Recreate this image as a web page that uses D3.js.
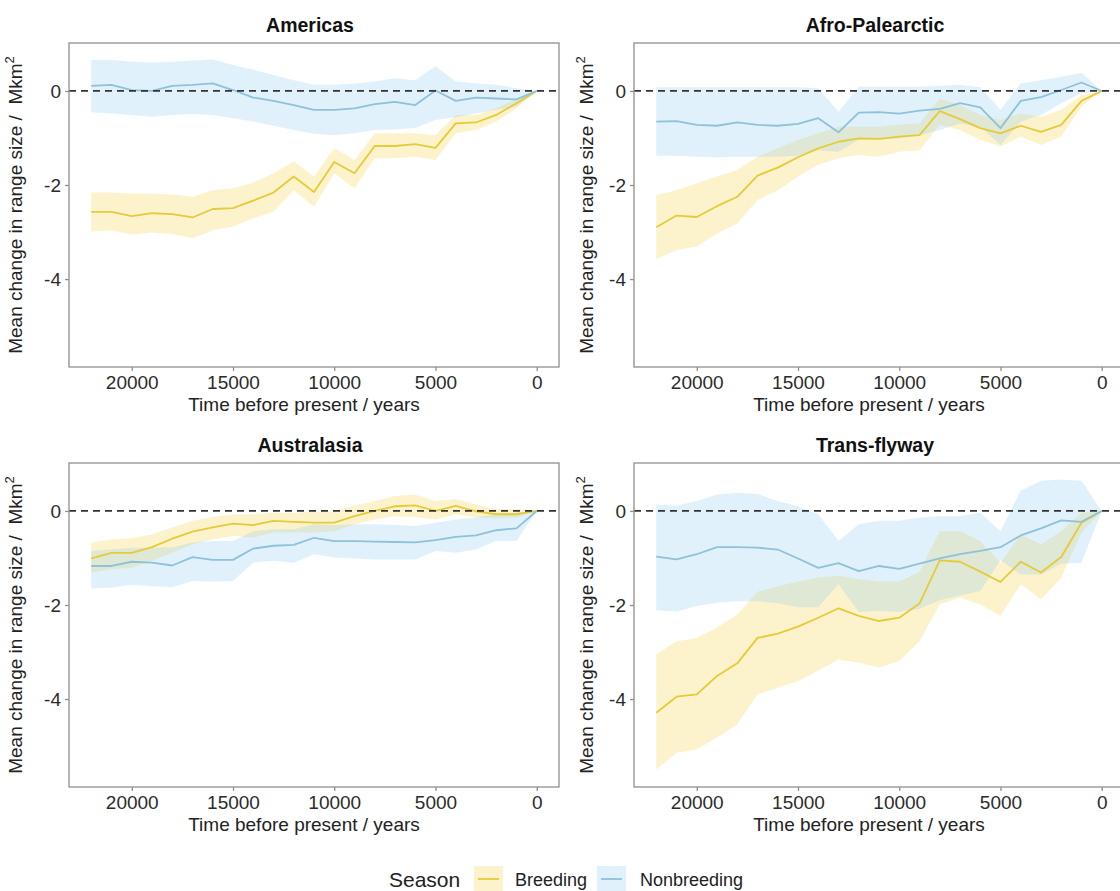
<!DOCTYPE html>
<html>
<head>
<meta charset="utf-8">
<script src="https://cdn.jsdelivr.net/npm/d3@7"></script>
<style>
  html, body { margin: 0; padding: 0; background: #fff; overflow: hidden; }
  svg { display: block; font-family: "Liberation Sans", Arial, Helvetica, sans-serif; }
</style>
</head>
<body>
<svg id="chart" width="1120" height="891"></svg>
<script>
// Years before present (one model time slice every 1000 years)
const years = [22000, 21000, 20000, 19000, 18000, 17000, 16000, 15000, 14000, 13000, 12000, 11000,
               10000, 9000, 8000, 7000, 6000, 5000, 4000, 3000, 2000, 1000, 0];

const regions = ["Americas", "Afro-Palearctic", "Australasia", "Trans-flyway"];
const seasons = ["Breeding", "Nonbreeding"];
const xTicks = [20000, 15000, 10000, 5000, 0];
const yTicks = [0, -2, -4];

// Americas
const americasBreedMean = [-2.57, -2.57, -2.66, -2.60, -2.62, -2.69, -2.51, -2.49, -2.33, -2.16, -1.82, -2.15,
                           -1.51, -1.75, -1.17, -1.17, -1.13, -1.21, -0.69, -0.67, -0.51, -0.26, 0];
const americasBreedLow  = [-2.99, -2.96, -3.06, -3.01, -3.04, -3.13, -2.96, -2.89, -2.71, -2.57, -2.11, -2.46,
                           -1.75, -2.07, -1.43, -1.43, -1.40, -1.47, -0.90, -0.83, -0.65, -0.37, 0];
const americasBreedHigh = [-2.16, -2.16, -2.18, -2.18, -2.20, -2.25, -2.11, -2.07, -1.95, -1.75, -1.50, -1.82,
                           -1.22, -1.47, -0.90, -0.90, -0.90, -0.94, -0.51, -0.51, -0.37, -0.16, 0];
const americasNonMean   = [0.11, 0.13, 0.02, 0.00, 0.11, 0.13, 0.16, 0.02, -0.14, -0.21, -0.30, -0.40,
                           -0.40, -0.37, -0.28, -0.23, -0.30, 0.01, -0.21, -0.14, -0.16, -0.18, 0];
const americasNonLow    = [-0.45, -0.48, -0.51, -0.55, -0.51, -0.49, -0.51, -0.58, -0.65, -0.74, -0.83, -0.91,
                           -0.94, -0.90, -0.83, -0.82, -0.79, -0.62, -0.56, -0.48, -0.40, -0.33, 0];
const americasNonHigh   = [0.66, 0.66, 0.62, 0.60, 0.62, 0.65, 0.67, 0.55, 0.45, 0.34, 0.23, 0.13,
                           0.13, 0.16, 0.20, 0.27, 0.23, 0.53, 0.20, 0.16, 0.13, 0.06, 0];

// Afro-Palearctic
const afroBreedMean = [-2.90, -2.65, -2.68, -2.45, -2.25, -1.80, -1.63, -1.41, -1.22, -1.08, -1.01, -1.02,
                       -0.97, -0.94, -0.43, -0.60, -0.79, -0.90, -0.74, -0.87, -0.72, -0.21, 0];
const afroBreedLow  = [-3.58, -3.38, -3.31, -3.03, -2.82, -2.32, -2.11, -1.82, -1.57, -1.43, -1.36, -1.40,
                       -1.29, -1.26, -0.72, -0.83, -1.04, -1.18, -0.97, -1.15, -0.97, -0.33, 0];
const afroBreedHigh = [-2.21, -2.11, -1.96, -1.82, -1.68, -1.40, -1.22, -1.04, -0.90, -0.76, -0.76, -0.76,
                       -0.72, -0.69, -0.16, -0.30, -0.51, -0.62, -0.48, -0.55, -0.40, -0.09, 0];
const afroNonMean   = [-0.65, -0.64, -0.72, -0.74, -0.67, -0.72, -0.74, -0.70, -0.58, -0.88, -0.46, -0.45,
                       -0.48, -0.42, -0.38, -0.26, -0.35, -0.79, -0.21, -0.13, 0.02, 0.18, 0];
const afroNonLow    = [-1.38, -1.38, -1.40, -1.41, -1.40, -1.40, -1.40, -1.38, -1.26, -1.29, -1.04, -1.03,
                       -1.01, -0.94, -0.83, -0.69, -0.76, -1.15, -0.65, -0.51, -0.26, -0.05, 0];
const afroNonHigh   = [0.08, 0.08, 0.08, 0.08, 0.08, 0.08, 0.08, 0.08, 0.06, -0.44, 0.09, 0.09,
                       0.09, 0.09, 0.11, 0.13, 0.08, -0.40, 0.16, 0.23, 0.30, 0.39, 0];

// Australasia
const australBreedMean = [-1.01, -0.89, -0.89, -0.77, -0.59, -0.44, -0.35, -0.27, -0.30, -0.21, -0.23, -0.25,
                          -0.25, -0.11, 0.00, 0.10, 0.12, 0.00, 0.11, -0.01, -0.07, -0.07, 0];
const australBreedLow  = [-1.31, -1.24, -1.21, -1.06, -0.89, -0.71, -0.60, -0.53, -0.57, -0.46, -0.46, -0.46,
                          -0.43, -0.28, -0.18, -0.11, -0.13, -0.18, -0.07, -0.14, -0.16, -0.14, 0];
const australBreedHigh = [-0.67, -0.60, -0.58, -0.50, -0.35, -0.21, -0.13, -0.07, -0.07, -0.04, -0.04, -0.01,
                          0.00, 0.11, 0.21, 0.32, 0.35, 0.21, 0.25, 0.14, 0.04, 0.04, 0];
const australNonMean   = [-1.17, -1.17, -1.08, -1.10, -1.16, -0.98, -1.04, -1.04, -0.80, -0.74, -0.72, -0.57,
                          -0.64, -0.64, -0.65, -0.66, -0.67, -0.62, -0.55, -0.52, -0.41, -0.37, 0];
const australNonLow    = [-1.65, -1.63, -1.57, -1.60, -1.62, -1.49, -1.50, -1.49, -1.10, -1.06, -1.10, -0.92,
                          -0.99, -1.01, -1.03, -1.03, -1.03, -0.85, -0.89, -0.82, -0.64, -0.64, 0];
const australNonHigh   = [-0.85, -0.82, -0.78, -0.78, -0.77, -0.67, -0.64, -0.64, -0.43, -0.39, -0.39, -0.28,
                          -0.30, -0.28, -0.28, -0.30, -0.32, -0.25, -0.18, -0.14, -0.07, -0.04, 0];

// Trans-flyway
const transBreedMean = [-4.29, -3.95, -3.90, -3.51, -3.24, -2.70, -2.61, -2.46, -2.27, -2.07, -2.23, -2.34,
                        -2.27, -1.97, -1.05, -1.08, -1.29, -1.51, -1.08, -1.31, -0.98, -0.25, 0];
const transBreedLow  = [-5.50, -5.14, -5.07, -4.82, -4.54, -3.90, -3.76, -3.62, -3.40, -3.16, -3.23, -3.33,
                        -3.19, -2.77, -1.99, -1.84, -1.99, -2.23, -1.56, -1.88, -1.42, -0.46, 0];
const transBreedHigh = [-3.05, -2.77, -2.70, -2.48, -2.20, -1.72, -1.60, -1.50, -1.42, -1.38, -1.45, -1.50,
                        -1.50, -1.30, -0.43, -0.43, -0.64, -1.10, -0.50, -0.71, -0.43, -0.04, 0];
const transNonMean   = [-0.97, -1.03, -0.92, -0.77, -0.77, -0.78, -0.82, -1.01, -1.21, -1.11, -1.28, -1.17,
                        -1.23, -1.12, -1.01, -0.92, -0.85, -0.77, -0.52, -0.37, -0.20, -0.23, 0];
const transNonLow    = [-2.11, -2.14, -2.02, -1.95, -1.92, -1.92, -1.96, -2.05, -2.05, -1.56, -2.15, -2.12,
                        -2.15, -2.08, -1.90, -1.80, -1.70, -1.05, -1.35, -1.35, -1.12, -1.10, 0];
const transNonHigh   = [0.14, 0.11, 0.21, 0.35, 0.39, 0.36, 0.21, 0.10, -0.07, -0.64, -0.28, -0.21,
                        -0.21, -0.14, -0.11, -0.11, -0.04, -0.43, 0.43, 0.64, 0.67, 0.64, 0];

const panelSeries = {
  "Americas":        { Breeding: [americasBreedMean, americasBreedLow, americasBreedHigh],
                       Nonbreeding: [americasNonMean, americasNonLow, americasNonHigh] },
  "Afro-Palearctic": { Breeding: [afroBreedMean, afroBreedLow, afroBreedHigh],
                       Nonbreeding: [afroNonMean, afroNonLow, afroNonHigh] },
  "Australasia":     { Breeding: [australBreedMean, australBreedLow, australBreedHigh],
                       Nonbreeding: [australNonMean, australNonLow, australNonHigh] },
  "Trans-flyway":    { Breeding: [transBreedMean, transBreedLow, transBreedHigh],
                       Nonbreeding: [transNonMean, transNonLow, transNonHigh] }
};

const lineColour = { Breeding: "#E6CB38", Nonbreeding: "#8CC2DA" };
const ribbonColour = { Breeding: "#F5D547", Nonbreeding: "#87C9F0" };
const ribbonOpacity = { Breeding: 0.28, Nonbreeding: 0.25 };

const svg = d3.select("#chart");

// panel placement: 2 x 2 grid
const panelW = 490, panelH = 324;
const panelPos = [
  { x0: 69,  y0: 43,  titleX: 22 },
  { x0: 634, y0: 43,  titleX: 593 },
  { x0: 69,  y0: 463, titleX: 22 },
  { x0: 634, y0: 463, titleX: 593 }
];

regions.forEach((region, i) => {
  const { x0, y0, titleX } = panelPos[i];
  const x = d3.scaleLinear().domain([23100, -1100]).range([x0, x0 + panelW]);
  const y = d3.scaleLinear().domain([-5.87, 1.02]).range([y0 + panelH, y0]);
  const g = svg.append("g");

  // ribbons (confidence bands)
  seasons.forEach(season => {
    const [mean, low, high] = panelSeries[region][season];
    const area = d3.area()
      .x((d, j) => x(years[j]))
      .y0((d, j) => y(low[j]))
      .y1((d, j) => y(high[j]));
    g.append("path")
      .datum(mean)
      .attr("d", area)
      .attr("fill", ribbonColour[season])
      .attr("fill-opacity", ribbonOpacity[season]);
  });

  // mean lines
  seasons.forEach(season => {
    const mean = panelSeries[region][season][0];
    const line = d3.line().x((d, j) => x(years[j])).y(d => y(d));
    g.append("path")
      .datum(mean)
      .attr("d", line)
      .attr("fill", "none")
      .attr("stroke", lineColour[season])
      .attr("stroke-width", 1.8)
      .attr("stroke-linejoin", "round");
  });

  // zero reference line
  g.append("line")
    .attr("x1", x0).attr("x2", x0 + panelW)
    .attr("y1", y(0)).attr("y2", y(0))
    .attr("stroke", "#333")
    .attr("stroke-width", 1.8)
    .attr("stroke-dasharray", "7,5");

  // panel border
  g.append("rect")
    .attr("x", x0).attr("y", y0)
    .attr("width", panelW).attr("height", panelH)
    .attr("fill", "none")
    .attr("stroke", "#8f8f8f")
    .attr("stroke-width", 1.3);

  // axes
  const xAxis = d3.axisBottom(x).tickValues(xTicks).tickSize(4).tickPadding(5).tickFormat(d3.format("d"));
  const yAxis = d3.axisLeft(y).tickValues(yTicks).tickSize(4).tickPadding(4).tickFormat(d => d < 0 ? "-" + Math.abs(d) : d);

  const gx = g.append("g").attr("transform", `translate(0,${y0 + panelH})`).call(xAxis);
  const gy = g.append("g").attr("transform", `translate(${x0},0)`).call(yAxis);
  [gx, gy].forEach(ax => {
    ax.select(".domain").remove();
    ax.selectAll(".tick line").attr("stroke", "#8f8f8f").attr("stroke-width", 1.3);
    ax.selectAll(".tick text")
      .attr("fill", "#2b2b2b")
      .style("font-size", "19px")
      .style("font-family", "'Liberation Sans', Arial, sans-serif");
  });

  // panel title
  g.append("text")
    .attr("x", x0 + panelW / 2 - 4)
    .attr("y", y0 - 11)
    .attr("text-anchor", "middle")
    .style("font-size", "19.5px")
    .style("font-weight", "bold")
    .attr("fill", "#111")
    .text(region);

  // x-axis title
  g.append("text")
    .attr("x", x0 + panelW / 2 - 10)
    .attr("y", y0 + panelH + 44)
    .attr("text-anchor", "middle")
    .style("font-size", "19px")
    .attr("fill", "#222")
    .text("Time before present / years");

  // y-axis title
  const yt = g.append("text")
    .attr("transform", `translate(${titleX},${y0 + panelH / 2}) rotate(-90)`)
    .attr("text-anchor", "middle")
    .style("font-size", "19px")
    .style("white-space", "pre")
    .attr("fill", "#222");
  yt.append("tspan").text("Mean change in range size /  Mkm");
  yt.append("tspan").attr("dy", -8).style("font-size", "13px").text("2");
});

// legend
const legend = svg.append("g");
legend.append("text")
  .attr("x", 389).attr("y", 887)
  .style("font-size", "21px")
  .attr("fill", "#222")
  .text("Season");

const legendItems = [
  { season: "Breeding", keyX: 474, labelX: 515 },
  { season: "Nonbreeding", keyX: 597, labelX: 640 }
];
legendItems.forEach(item => {
  legend.append("rect")
    .attr("x", item.keyX).attr("y", 866)
    .attr("width", 29).attr("height", 26)
    .attr("fill", ribbonColour[item.season])
    .attr("fill-opacity", ribbonOpacity[item.season]);
  legend.append("line")
    .attr("x1", item.keyX + 4).attr("x2", item.keyX + 25)
    .attr("y1", 879).attr("y2", 879)
    .attr("stroke", lineColour[item.season])
    .attr("stroke-width", 1.8);
  legend.append("text")
    .attr("x", item.labelX).attr("y", 886)
    .style("font-size", "18px")
    .attr("fill", "#222")
    .text(item.season);
});
</script>
</body>
</html>
